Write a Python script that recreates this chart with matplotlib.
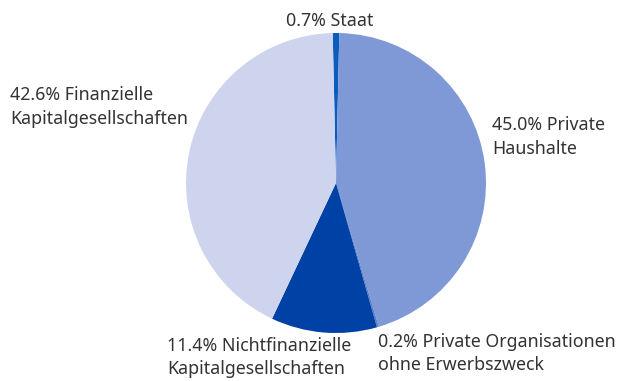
import matplotlib
matplotlib.use("Agg")
import matplotlib.pyplot as plt

# Shares by sector (percent), clockwise from the top
sectors = [["Staat"], ["Private", "Haushalte"], ["Private Organisationen", "ohne Erwerbszweck"],
           ["Nichtfinanzielle", "Kapitalgesellschaften"], ["Finanzielle", "Kapitalgesellschaften"]]
shares = [0.7, 45.0, 0.2, 11.4, 42.6]
colors = ["#0a5cbf", "#7f98d6", "#5a7cc8", "#0041a5", "#cfd4ee"]

W, H = 619, 381
fig = plt.figure(figsize=(W / 100, H / 100), dpi=100)
plt.rcParams["font.family"] = ["Noto Sans", "DejaVu Sans"]

cx, cy, r = 336, 183, 150
ax = fig.add_axes([(cx - r) / W, (H - cy - r) / H, 2 * r / W, 2 * r / H])
ax.pie(shares, colors=colors, startangle=90 + shares[0] * 3.6 / 2,
       counterclock=False, radius=1, wedgeprops=dict(linewidth=0))
ax.set_xlim(-1, 1)
ax.set_ylim(-1, 1)
ax.set_aspect("equal")
ax.axis("off")

# label anchors in pixels: x, baseline of first line, horizontal alignment
anchors = [(329.5, 26, "center"), (492, 130, "left"), (378, 346.7, "left"),
           (167, 350.7, "left"), (10, 100, "left")]
line_step = 23.5
for v, lines, (x, y, ha) in zip(shares, sectors, anchors):
    lines = [f"{v:.1f}% {lines[0]}"] + lines[1:]
    for i, line in enumerate(lines):
        fig.text(x / W, 1 - (y + i * line_step) / H, line, ha=ha, va="baseline",
                 fontsize=12.8, color="#333333")

fig.savefig("out.png", dpi=100)
